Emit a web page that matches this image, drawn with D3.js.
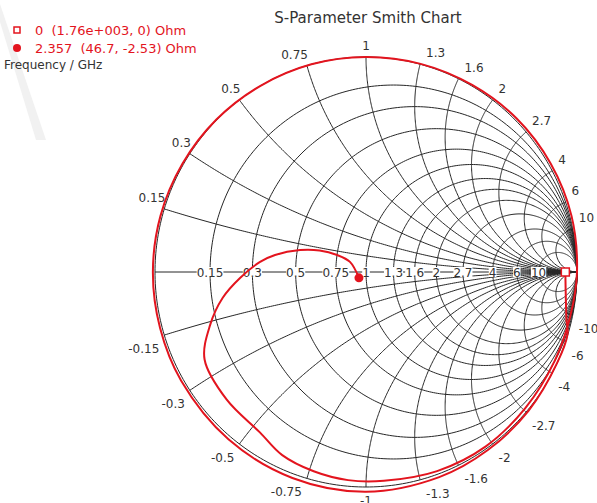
<!DOCTYPE html>
<html>
<head>
<meta charset="utf-8">
<script src="https://cdn.jsdelivr.net/npm/d3@7"></script>
<style>
  html, body { margin: 0; padding: 0; background: #fff; }
  svg { display: block; font-family: "DejaVu Sans", Verdana, sans-serif; }
  .pre { white-space: pre; }
</style>
</head>
<body>
<svg id="chart" width="597" height="503"></svg>
<script>
// Normalised resistance / reactance values used for the Smith grid
const gridValues = [0.15, 0.3, 0.5, 0.75, 1, 1.3, 1.6, 2, 2.7, 4, 6, 10];
const gridLabels = ["0.15", "0.3", "0.5", "0.75", "1", "1.3", "1.6", "2", "2.7", "4", "6", "10"];

// Reference impedance (Ohm)
const z0 = 50;

// Markers: frequency label, R and X in Ohm
const markerFreq = ["0", "2.357"];
const markerR = [1760, 46.7];
const markerX = [0, -2.53];
const markerText = ["0  (1.76e+003, 0) Ohm", "2.357  (46.7, -2.53) Ohm"];

// S11 trace (reflection coefficient, real / imaginary) between the two markers
const traceRe = [0.950, 0.955, 0.906, 0.770, 0.579, 0.347, 0.000, -0.349, -0.652, -0.876,
  -0.976, -1.010, -0.974, -0.870, -0.709, -0.500, -0.259, 0.000, 0.259, 0.503,
  0.714, 0.875, 0.974, 1.000, 0.968, 0.893, 0.755, 0.568, 0.337, 0.085,
  -0.085, -0.248, -0.397, -0.503, -0.660, -0.765, -0.739, -0.679, -0.597, -0.502,
  -0.431, -0.313, -0.220, -0.137, -0.076];
const traceIm = [-0.220, -0.290, -0.423, -0.646, -0.827, -0.954, -1.022, -0.958, -0.778, -0.506,
  -0.261, 0.000, 0.261, 0.503, 0.709, 0.866, 0.966, 1.000, 0.968, 0.870,
  0.714, 0.505, 0.261, 0.000, -0.206, -0.416, -0.633, -0.811, -0.926, -0.971,
  -0.968, -0.927, -0.852, -0.746, -0.594, -0.407, -0.247, -0.120, -0.028, 0.047,
  0.079, 0.102, 0.100, 0.079, 0.047];

const title = "S-Parameter Smith Chart";
const freqCaption = "Frequency / GHz";

const svg = d3.select("#chart");
const cx = 366, cy = 272, rx = 211, ry = 215;
const x = d3.scaleLinear().domain([-1, 1]).range([cx - rx, cx + rx]);
const y = d3.scaleLinear().domain([-1, 1]).range([cy + ry, cy - ry]);

const gridColor = "#262626";
const red = "#e3141e";

// faint diagonal band behind the legend
svg.append("path").attr("d", "M0,4 L0,22 L36,140 L46,140 Z").attr("fill", "#f1f1f1");

// z = a + jb  ->  reflection coefficient
function gamma(a, b) {
  const d = (a + 1) * (a + 1) + b * b;
  return [(a * a + b * b - 1) / d, 2 * b / d];
}

const line = d3.line().x(d => x(d[0])).y(d => y(d[1]));
const grid = svg.append("g").attr("fill", "none").attr("stroke", gridColor).attr("stroke-width", 1);

// Outer circle (r = 0)
grid.append("path").attr("d", line(d3.range(0, 361).map(t => [Math.cos(t * Math.PI / 180), Math.sin(t * Math.PI / 180)])));

// Constant-resistance circles
gridValues.forEach(r => {
  const c = r / (1 + r), rho = 1 / (1 + r);
  const pts = d3.range(0, 361).map(t => [c + rho * Math.cos(t * Math.PI / 180), rho * Math.sin(t * Math.PI / 180)]);
  grid.append("path").attr("d", line(pts));
});

// Constant-reactance arcs (positive and negative)
gridValues.forEach(xv => {
  [xv, -xv].forEach(b => {
    const pts = d3.range(0, 1.0001, 0.005).map(u => {
      if (u >= 1) return [1, 0];
      const a = u / (1 - u);
      return gamma(a, b);
    });
    grid.append("path").attr("d", line(pts));
  });
});

// Real axis
grid.append("line").attr("x1", x(-1)).attr("x2", x(1)).attr("y1", y(0)).attr("y2", y(0));

// Reactance labels around the rim
const rimLabels = svg.append("g").attr("font-size", 12).attr("fill", "#333");
gridValues.forEach((xv, i) => {
  [1, -1].forEach(s => {
    const g = gamma(0, s * xv);
    const px = x(g[0]), py = y(g[1]);
    let anchor = "middle", dx = 0;
    if (g[0] > 0.02) { anchor = "start"; dx = 6; }
    else if (g[0] < -0.02) { anchor = "end"; dx = s > 0 ? 1 : -5; }
    rimLabels.append("text")
      .attr("x", px + dx)
      .attr("y", s > 0 ? py - 7 : py + 18)
      .attr("text-anchor", anchor)
      .text((s < 0 ? "-" : "") + gridLabels[i]);
  });
});

// Resistance labels on the real axis, on a white background
const axisLabels = svg.append("g").attr("font-size", 12).attr("fill", "#333");
gridValues.forEach((r, i) => {
  const g = gamma(r, 0);
  const t = axisLabels.append("text")
    .attr("x", x(g[0])).attr("y", y(0) + 4.5)
    .attr("text-anchor", "middle")
    .text(gridLabels[i]);
  const bb = t.node().getBBox();
  axisLabels.insert("rect", () => t.node())
    .attr("x", bb.x).attr("y", y(0) - 5).attr("width", bb.width).attr("height", 10)
    .attr("fill", "#fff");
});

// Marker reflection coefficients from their impedances
const markerGamma = markerR.map((R, i) => gamma(R / z0, markerX[i] / z0));

// Trace
const tracePts = [markerGamma[0]]
  .concat(traceRe.map((v, i) => [v, traceIm[i]]))
  .concat([markerGamma[1]]);
svg.append("path")
  .attr("d", d3.line().x(d => x(d[0])).y(d => y(d[1])).curve(d3.curveCatmullRom.alpha(0.5))(tracePts))
  .attr("fill", "none").attr("stroke", red).attr("stroke-width", 2);

// Markers on the chart
svg.append("rect")
  .attr("x", x(markerGamma[0][0]) - 4).attr("y", y(markerGamma[0][1]) - 4)
  .attr("width", 8).attr("height", 8)
  .attr("fill", "#fff").attr("stroke", red).attr("stroke-width", 1.5);
svg.append("circle")
  .attr("cx", x(markerGamma[1][0])).attr("cy", y(markerGamma[1][1])).attr("r", 4.5)
  .attr("fill", red);

// Title
svg.append("text").attr("x", cx + 2).attr("y", 23).attr("text-anchor", "middle")
  .attr("font-size", 15).attr("fill", "#333").text(title);

// Legend
const legend = svg.append("g");
legend.append("rect").attr("x", 14).attr("y", 27).attr("width", 6).attr("height", 6)
  .attr("fill", "#fff").attr("stroke", red).attr("stroke-width", 1.5);
legend.append("circle").attr("cx", 17).attr("cy", 48).attr("r", 4).attr("fill", red);
markerText.forEach((s, i) => {
  legend.append("text").attr("class", "pre")
    .attr("x", 35).attr("y", 34.5 + i * 18.5)
    .attr("font-size", 13).attr("fill", red).text(s);
});
legend.append("text").attr("x", 4).attr("y", 69).attr("font-size", 12).attr("fill", "#333").text(freqCaption);
</script>
</body>
</html>
